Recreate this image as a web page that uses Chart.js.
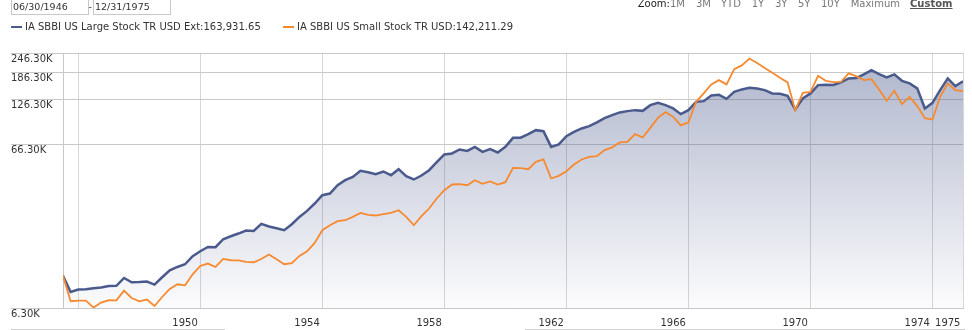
<!DOCTYPE html>
<html>
<head>
<meta charset="utf-8">
<script src="https://cdn.jsdelivr.net/npm/chart.js@4.4.0/dist/chart.umd.min.js"></script>
<style>
  body { margin: 0; background: #fff; }
  #wrap { position: relative; width: 972px; height: 330px; overflow: hidden;
          font-family: "DejaVu Sans", Verdana, sans-serif; color: #333; }
  #grafico { position: absolute; left: 0; top: 0; }
  .abs { position: absolute; white-space: nowrap; }
  .box { position: absolute; top: -6px; height: 19px; border: 1px solid #c8c8c8; background: #fff; }
  .dt { position: absolute; top: 0.5px; font-size: 9.5px; line-height: 11px; color: #333; }
  .zm { position: absolute; top: -2.2px; font-size: 10px; line-height: 12px; color: #777; }
  .lg { position: absolute; top: 20.5px; font-size: 10px; line-height: 12px; color: #333; }
  .mk { position: absolute; top: 25.5px; width: 11px; height: 2.5px; }
  .rule { position: absolute; top: 329px; height: 1px; background: #d0d0d0; }
</style>
</head>
<body>
<div id="wrap">
  <canvas id="grafico" width="972" height="330"></canvas>

  <div class="box" style="left:11px;width:76px"></div>
  <div class="box" style="left:93px;width:76px"></div>
  <div class="dt" id="dataIni" style="left:13px"></div>
  <div class="dt" style="left:88.5px">-</div>
  <div class="dt" id="dataFim" style="left:95px"></div>

  <div class="zm" style="left:637.7px"><span style="color:#222">Zoom:</span>1M</div>
  <div class="zm" style="left:696px">3M</div>
  <div class="zm" style="left:721px">YTD</div>
  <div class="zm" style="left:751.7px">1Y</div>
  <div class="zm" style="left:775px">3Y</div>
  <div class="zm" style="left:798px">5Y</div>
  <div class="zm" style="left:821px">10Y</div>
  <div class="zm" style="left:850.7px">Maximum</div>
  <div class="zm" style="left:910px;font-weight:bold;color:#555;text-decoration:underline">Custom</div>

  <div class="mk" style="left:11px;background:#4b5a8c"></div>
  <div class="lg" id="leg1" style="left:25px"></div>
  <div class="mk" style="left:283px;background:#f7892f"></div>
  <div class="lg" id="leg2" style="left:297px"></div>

  <div class="rule" style="left:11px;width:214px"></div>
  <div class="rule" style="left:525px;width:440px"></div>
</div>

<script>
// Crescimento de 10.000 - IA SBBI Large x Small Stock (trimestral)

const dataInicio = "06/30/1946";
const dataFim = "12/31/1975";

// fim de cada trimestre, em anos decimais (30/06/1946 ... 31/12/1975)
const quarterEnds = [];
for (let q = 0; q < 119; q++) quarterEnds.push(1946.5 + q * 0.25);

const largeName = "IA SBBI US Large Stock TR USD Ext";
const smallName = "IA SBBI US Small Stock TR USD";

const largeStock = [
  10000, 7930, 8210, 8240, 8365, 8450, 8645, 8660, 9700, 9120,
  9140, 9210, 8820, 9800, 10840, 11365, 11815, 13255, 14245, 15155,
  15100, 16930, 17675, 18375, 19185, 19075, 21095, 20325, 19835, 19270,
  21005, 23335, 25440, 28295, 31885, 32675, 36820, 39565, 41490, 45230,
  44395, 43135, 44845, 42520, 46355, 41915, 39970, 42335, 45690, 51265,
  57270, 58100, 61540, 60315, 63890, 59450, 61810, 58945, 63890, 72720,
  72900, 76695, 81240, 80075, 63890, 66130, 74510, 79280, 83250, 86050,
  90760, 96555, 100815, 104800, 106780, 108330, 107240, 116405, 120315, 116405,
  111020, 102275, 108330, 122065, 123305, 133845, 135005, 127455, 140965, 145915,
  149325, 148030, 144460, 137755, 136960, 133090, 109430, 128185, 137755, 155240,
  155905, 155700, 161395, 170945, 171680, 181080, 192625, 181860, 173420, 181080,
  165135, 159075, 148030, 111020, 120315, 144460, 170945, 153020, 163931.65
];

const smallStock = [
  10000, 6940, 7010, 7000, 6340, 6810, 7040, 7030, 8090, 7275,
  6940, 7110, 6485, 7380, 8280, 8860, 8735, 10230, 11530, 11935,
  11365, 12750, 12515, 12510, 12215, 12160, 12750, 13585, 12695, 11815,
  11985, 13315, 14245, 16050, 19270, 20705, 21935, 22255, 23335, 24715,
  24015, 23810, 24260, 24715, 25695, 23335, 20705, 23570, 26330, 30410,
  34265, 37190, 37355, 36820, 39565, 37515, 38835, 37190, 38445, 47230,
  47025, 46355, 51485, 53295, 40550, 42095, 45040, 49595, 53295, 55325,
  55880, 60925, 63340, 68065, 68655, 76695, 73145, 83975, 96970, 105255,
  98375, 86925, 90760, 122065, 137755, 156815, 166820, 156815, 195415, 206110,
  227285, 213045, 198250, 185300, 172435, 161395, 108330, 138940, 140965, 177470,
  165135, 162085, 162785, 183710, 176710, 166820, 169230, 145915, 123840, 143005,
  118100, 131185, 114755, 96555, 94750, 131185, 159075, 144460, 142211.29
];

// ticks do eixo y (escala log) e anos do eixo x
const yTicks = [6300, 66300, 126300, 186300, 246300];
const gridYears = [1947, 1951, 1955, 1959, 1963, 1967, 1971, 1975, 1976];
const labelYears = [1950, 1954, 1958, 1962, 1966, 1970, 1974, 1975];

const xTickValues = gridYears.concat(labelYears.map(y => y + 0.5)).sort((a, b) => a - b);

const fmt = v => v.toLocaleString('en-US', { minimumFractionDigits: 2, maximumFractionDigits: 2 });

document.getElementById('dataIni').textContent = dataInicio;
document.getElementById('dataFim').textContent = dataFim;
document.getElementById('leg1').textContent = largeName + ":" + fmt(largeStock[largeStock.length - 1]);
document.getElementById('leg2').textContent = smallName + ":" + fmt(smallStock[smallStock.length - 1]);

const fonte = { family: "DejaVu Sans", size: 10 };

var ctx = document.getElementById('grafico').getContext('2d');

new Chart(ctx, {
  type: 'line',
  data: {
    datasets: [
      {
        label: smallName,
        data: quarterEnds.map((x, i) => ({ x: x, y: smallStock[i] })),
        borderColor: '#f7892f',
        borderWidth: 1.8,
        pointRadius: 0,
        tension: 0,
        fill: false,
        order: 0
      }, {
        label: largeName,
        data: quarterEnds.map((x, i) => ({ x: x, y: largeStock[i] })),
        borderColor: '#4b5a8c',
        borderWidth: 2.5,
        pointRadius: 0,
        tension: 0,
        fill: 'start',
        backgroundColor: (c) => {
          const area = c.chart.chartArea;
          if (!area) return 'rgba(75,90,140,0.2)';
          const g = c.chart.ctx.createLinearGradient(0, area.top, 0, area.bottom);
          g.addColorStop(0, 'rgba(75,90,140,0.45)');
          g.addColorStop(1, 'rgba(75,90,140,0.02)');
          return g;
        },
        order: 1
      }
    ]
  },
  options: {
    responsive: false,
    animation: false,
    devicePixelRatio: 1,
    layout: { padding: { top: 53, left: 11, right: 8, bottom: 0 } },
    plugins: {
      legend: { display: false },
      tooltip: { enabled: false }
    },
    scales: {
      x: {
        type: 'linear',
        min: 1946.5,
        max: 1976,
        afterBuildTicks: (s) => { s.ticks = xTickValues.map(v => ({ value: v })); },
        afterFit: (s) => { s.height = 22; },
        grid: {
          drawTicks: false,
          color: (c) => (c.tick && c.tick.value % 1 === 0) ? '#d6d6d6' : 'rgba(0,0,0,0)'
        },
        border: { display: true, color: '#c8c8c8' },
        ticks: {
          autoSkip: false,
          maxRotation: 0,
          padding: 9,
          color: '#333',
          font: fonte,
          callback: (v) => (v % 1 !== 0) ? String(Math.floor(v)) : ''
        }
      },
      y: {
        type: 'logarithmic',
        min: 6300,
        max: 246300,
        afterBuildTicks: (s) => { s.ticks = yTicks.map(v => ({ value: v })); },
        afterFit: (s) => { s.width = 52; },
        grid: { color: '#c8c8c8', tickLength: 52 },
        border: { display: true, color: '#c8c8c8' },
        ticks: {
          autoSkip: false,
          crossAlign: 'far',
          labelOffset: 6,
          padding: 0,
          color: '#333',
          font: fonte,
          callback: (v) => (v / 1000).toFixed(2) + 'K'
        }
      }
    }
  }
});
</script>
</body>
</html>
